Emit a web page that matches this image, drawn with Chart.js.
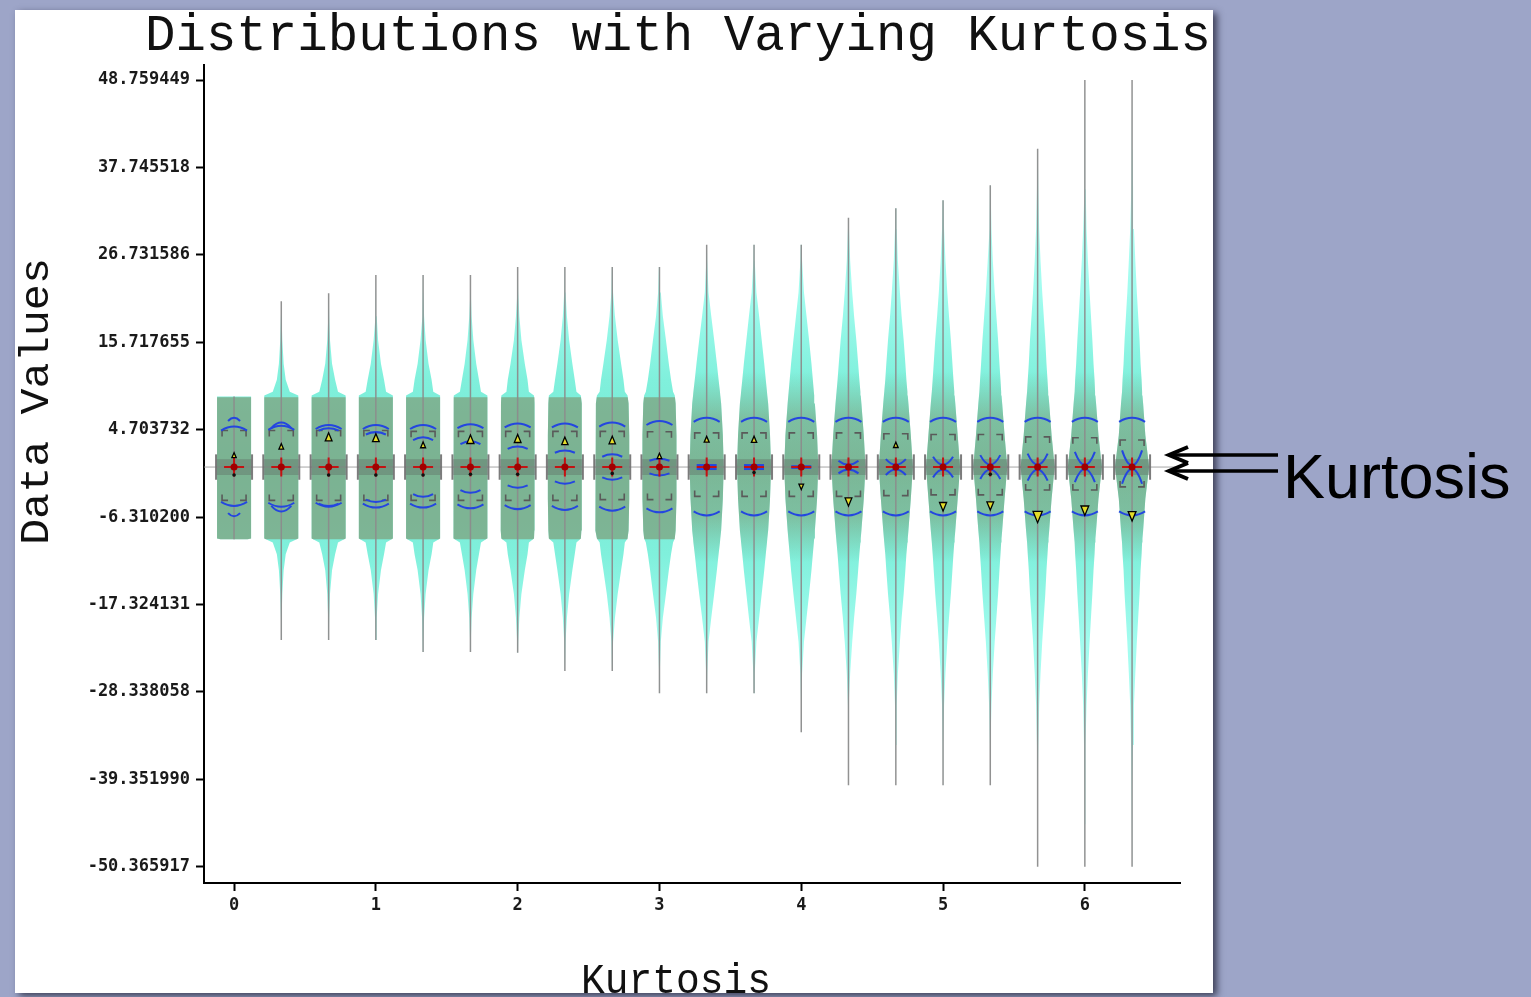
<!DOCTYPE html>
<html>
<head>
<meta charset="utf-8">
<script src="https://cdn.jsdelivr.net/npm/chart.js@4.4.0/dist/chart.umd.min.js"></script>
<style>
  html, body { margin: 0; padding: 0; background: #9da5c8; overflow: hidden; }
</style>
</head>
<body>
<canvas id="kurt" width="1531" height="997"></canvas>
<script>
// one summary plot per kurtosis step
const positions = [0, 0.333, 0.667, 1, 1.333, 1.667, 2, 2.333, 2.667, 3, 3.333, 3.667, 4, 4.333, 4.667, 5, 5.333, 5.667, 6, 6.333];
const mins = [-9.1, -21.8, -21.8, -21.8, -23.3, -23.3, -23.4, -25.7, -25.7, -28.5, -28.5, -28.5, -33.4, -40.1, -40.1, -40.1, -40.1, -50.365917, -50.365917, -50.365917];
const maxs = [8.9, 20.9, 21.9, 24.2, 24.2, 24.2, 25.2, 25.2, 25.2, 25.2, 28.0, 28.0, 28.0, 31.4, 32.6, 33.6, 35.5, 40.1, 48.759449, 48.759449];
const means = [0, 0, 0, 0, 0, 0, 0, 0, 0, 0, 0, 0, 0, 0, 0, 0, 0, 0, 0, 0];
const q1 = [-4.2, -4.2, -4.2, -4.2, -4.2, -4.2, -4.2, -4.2, -4.1, -4.1, -3.7, -3.7, -3.7, -3.7, -3.6, -3.5, -3.5, -2.9, -2.9, -2.5];
const q3 = [4.6, 4.6, 4.6, 4.6, 4.5, 4.5, 4.5, 4.5, 4.5, 4.45, 4.3, 4.3, 4.3, 4.3, 4.2, 4.1, 4.1, 3.8, 3.7, 3.4];
const sdUp = [5.1, 5.2, 5.3, 5.3, 5.3, 5.4, 5.5, 5.5, 5.6, 5.8, 6.2, 6.2, 6.2, 6.2, 6.2, 6.2, 6.2, 6.2, 6.2, 6.2];
const sdDown = [4.9, 5.0, 5.0, 5.1, 5.1, 5.2, 5.3, 5.4, 5.5, 5.7, 6.1, 6.1, 6.1, 6.1, 6.1, 6.1, 6.1, 6.1, 6.1, 6.1];
const kurtMid = [6.2, 5.6, 4.9, 4.4, 3.75, 3.25, 2.6, 2.1, 1.6, 1.05, 0.25, 0.25, 0.1, 0.3, 0.3, 0.3, 0.3, 0.3, 0.25, 0.2];
const kurtEnd = [5.8, 4.9, 4.6, 4.1, 3.4, 2.9, 2.3, 1.8, 1.3, 0.8, 0.25, 0.25, 0.1, 0.8, 1.0, 1.3, 1.5, 1.7, 1.9, 2.1];
const skewPos = [1.5, 2.6, 3.8, 3.7, 2.8, 3.5, 3.6, 3.3, 3.4, 1.4, 3.5, 3.5, -2.5, -4.4, 2.8, -5.0, -4.9, -6.3, -5.5, -6.2];
const skewMag = [0.1, 0.15, 0.45, 0.45, 0.2, 0.5, 0.45, 0.4, 0.4, 0.15, 0.2, 0.25, 0.15, 0.45, 0.15, 0.5, 0.45, 0.8, 0.6, 0.6];
const dotPos = [-1.0, null, -1.0, -1.0, -1.0, -0.9, -0.9, null, -0.8, null, null, -0.7, null, null, null, null, -0.9, null, null, null];
// true where the histogram has a hard box edge
const histBox = [true, true, true, true, true, true, true, true, true, true, false, false, false, false, false, false, false, false, false, false];

// relative density (1 = widest) at these distances from the mean
const levels = [0, 4, 8, 9, 9.5, 11, 13, 16, 19, 22, 26, 30, 35, 40, 45, 50];
const density = [
  [1, 1, 1, 1, 0],
  [1, 1, 1, 1, 0.5, 0.26, 0.14, 0.06, 0.02, 0],
  [1, 1, 1, 1, 0.55, 0.38, 0.2, 0.08, 0.03, 0.01, 0],
  [1, 1, 1, 1, 0.6, 0.48, 0.3, 0.13, 0.05, 0.01, 0],
  [1, 1, 1, 1, 0.6, 0.5, 0.32, 0.15, 0.06, 0.02, 0],
  [1, 1, 1, 0.98, 0.62, 0.5, 0.34, 0.17, 0.07, 0.02, 0],
  [1, 1, 0.98, 0.96, 0.66, 0.58, 0.42, 0.22, 0.1, 0.03, 0],
  [1, 1, 0.97, 0.94, 0.68, 0.58, 0.44, 0.25, 0.12, 0.04, 0],
  [1, 1, 0.96, 0.9, 0.74, 0.66, 0.52, 0.32, 0.16, 0.05, 0.01, 0],
  [1, 1, 0.95, 0.9, 0.8, 0.68, 0.55, 0.38, 0.2, 0.08, 0.02, 0],
  [1, 0.95, 0.85, 0.8, 0.78, 0.7, 0.6, 0.44, 0.27, 0.11, 0.03, 0],
  [1, 0.94, 0.83, 0.78, 0.76, 0.69, 0.6, 0.45, 0.3, 0.14, 0.04, 0],
  [1, 0.93, 0.8, 0.76, 0.74, 0.68, 0.6, 0.46, 0.31, 0.16, 0.05, 0.01, 0],
  [1, 0.9, 0.76, 0.72, 0.7, 0.64, 0.57, 0.46, 0.33, 0.22, 0.1, 0.03, 0],
  [1, 0.88, 0.74, 0.7, 0.68, 0.62, 0.56, 0.46, 0.34, 0.24, 0.12, 0.05, 0.01, 0],
  [1, 0.86, 0.72, 0.68, 0.66, 0.61, 0.55, 0.46, 0.35, 0.25, 0.14, 0.06, 0.02, 0],
  [1, 0.84, 0.7, 0.66, 0.64, 0.6, 0.54, 0.46, 0.36, 0.26, 0.15, 0.07, 0.02, 0],
  [1, 0.82, 0.68, 0.64, 0.62, 0.58, 0.52, 0.45, 0.36, 0.27, 0.17, 0.09, 0.04, 0.01, 0],
  [1, 0.8, 0.66, 0.62, 0.6, 0.57, 0.51, 0.44, 0.36, 0.28, 0.18, 0.1, 0.05, 0.02, 0.01, 0],
  [1, 0.78, 0.65, 0.61, 0.59, 0.56, 0.5, 0.44, 0.36, 0.28, 0.19, 0.11, 0.06, 0.03, 0.01, 0]
];
const histRange = [-9.1, 8.8];

const yTicks = [48.759449, 37.745518, 26.731586, 15.717655, 4.703732, -6.310200, -17.324131, -28.338058, -39.351990, -50.365917];
const xTicks = [0, 1, 2, 3, 4, 5, 6];

const HALF = 0.12; // widest half-width, x units
const MONO = '"Liberation Mono", "Courier New", "Nimbus Mono PS", "DejaVu Sans Mono", monospace';

function halfWidth(k, v) {
  const d = density[k];
  const a = Math.abs(v);
  for (let i = 0; i < levels.length - 1; i++) {
    if (a <= levels[i + 1]) {
      const t = (a - levels[i]) / (levels[i + 1] - levels[i]);
      const d0 = d[i] ?? 0, d1 = d[i + 1] ?? 0;
      return d0 + (d1 - d0) * t;
    }
  }
  return 0;
}

function outline(k, lo, hi) {
  const m = means[k];
  const vals = [lo];
  const offs = levels.slice(1).map(l => -l).reverse().concat(levels);
  offs.forEach(o => { const v = m + o; if (v > lo && v < hi) vals.push(v); });
  vals.push(hi);
  const right = vals.map(v => ({ x: positions[k] + HALF * halfWidth(k, v - m), y: v }));
  const left = vals.slice().reverse().map(v => ({ x: positions[k] - HALF * halfWidth(k, v - m), y: v }));
  return right.concat(left);
}

function vGradient(chart, stops, fallback) {
  const ys = chart.scales.y;
  if (!chart.chartArea || !ys) return fallback;
  const top = ys.getPixelForValue(50), bot = ys.getPixelForValue(-50);
  const g = chart.ctx.createLinearGradient(0, top, 0, bot);
  stops.forEach(([v, col]) => g.addColorStop((ys.getPixelForValue(v) - top) / (bot - top), col));
  return g;
}

const cyanFill = c => vGradient(c.chart, [
  [50, '#c4fff8'], [22, '#a2fcef'], [11, '#80f0dc'], [0, '#76e8d2'],
  [-11, '#80f0dc'], [-22, '#a2fcef'], [-50, '#c4fff8']
], '#80efdb');

const HIST = 'rgba(126,146,106,0.62)';
const softHist = c => vGradient(c.chart, [
  [50, 'rgba(126,146,106,0)'], [12, 'rgba(126,146,106,0)'], [6, 'rgba(126,146,106,0.5)'],
  [0, 'rgba(126,146,106,0.58)'], [-6, 'rgba(126,146,106,0.5)'], [-12, 'rgba(126,146,106,0)'],
  [-50, 'rgba(126,146,106,0)']
], HIST);

const datasets = [];
positions.forEach((p, k) => {
  datasets.push({
    data: [{ x: p, y: mins[k] }, { x: p, y: maxs[k] }],
    showLine: true, borderColor: 'rgba(140,140,140,0.95)', borderWidth: 1.5,
    pointRadius: 0, fill: false, order: 1
  });
  datasets.push({
    data: histBox[k]
      ? outline(k, Math.max(mins[k], histRange[0]), Math.min(maxs[k], histRange[1]))
      : outline(k, Math.max(mins[k], -14), Math.min(maxs[k], 14)),
    showLine: true, borderWidth: 0, borderColor: 'rgba(0,0,0,0)', pointRadius: 0,
    backgroundColor: histBox[k] ? HIST : softHist, fill: 'shape', tension: 0, order: 2
  });
  datasets.push({
    data: outline(k, mins[k], maxs[k]),
    showLine: true, borderWidth: 0, borderColor: 'rgba(0,0,0,0)', pointRadius: 0,
    backgroundColor: cyanFill, fill: 'shape', tension: 0, order: 3
  });
});

const panel = {
  id: 'panel',
  beforeDraw(chart) {
    const ctx = chart.ctx;
    ctx.save();
    ctx.fillStyle = '#9da5c8';
    ctx.fillRect(0, 0, chart.width, chart.height);
    ctx.shadowColor = 'rgba(30,30,50,0.75)';
    ctx.shadowBlur = 7;
    ctx.shadowOffsetX = 4;
    ctx.shadowOffsetY = 3;
    ctx.fillStyle = '#fff';
    ctx.fillRect(15, 10, 1198, 983);
    ctx.restore();
  }
};

function arc(ctx, cx, hw, yMid, yEnd) {
  ctx.beginPath();
  ctx.moveTo(cx - hw, yEnd);
  ctx.quadraticCurveTo(cx, 2 * yMid - yEnd, cx + hw, yEnd);
  ctx.stroke();
}

// stretch a text so it fills a given width and cap height
function fitText(ctx, text, size, width, cap) {
  ctx.font = size + 'px ' + MONO;
  const m = ctx.measureText(text);
  const h = m.actualBoundingBoxAscent || size * 0.6;
  ctx.scale(width / m.width, cap / h);
  ctx.fillText(text, 0, 0);
}

const glyphs = {
  id: 'glyphs',
  afterDatasetsDraw(chart) {
    const ctx = chart.ctx, xs = chart.scales.x, ys = chart.scales.y, ca = chart.chartArea;
    const X = v => xs.getPixelForValue(v), Y = v => ys.getPixelForValue(v);
    ctx.save();
    const grand = means.reduce((a, b) => a + b, 0) / means.length;
    ctx.strokeStyle = 'rgba(150,150,150,0.85)';
    ctx.lineWidth = 1;
    ctx.beginPath();
    ctx.moveTo(ca.left, Y(grand));
    ctx.lineTo(ca.right - 4, Y(grand));
    ctx.stroke();

    positions.forEach((p, k) => {
      const cx = X(p), m = means[k], y0 = Y(m);
      // box-plot centre band
      ctx.fillStyle = 'rgba(85,85,85,0.3)';
      ctx.fillRect(cx - 18, Y(m + 1.0), 36, Y(m - 1.0) - Y(m + 1.0));
      ctx.strokeStyle = 'rgba(110,110,110,0.9)';
      ctx.lineWidth = 2;
      [-18, 18].forEach(dx => {
        ctx.beginPath();
        ctx.moveTo(cx + dx, Y(m + 1.6));
        ctx.lineTo(cx + dx, Y(m - 1.6));
        ctx.stroke();
      });
      // quartile brackets
      ctx.strokeStyle = '#5a5a5a';
      ctx.lineWidth = 1.6;
      const bw = 12, arm = 6;
      const yt = Y(q3[k]), yb = Y(q1[k]);
      [-1, 1].forEach(s => {
        ctx.beginPath();
        ctx.moveTo(cx + s * (bw - arm), yt);
        ctx.lineTo(cx + s * bw, yt);
        ctx.lineTo(cx + s * bw, yt + arm);
        ctx.moveTo(cx + s * bw, yb - arm);
        ctx.lineTo(cx + s * bw, yb);
        ctx.lineTo(cx + s * (bw - arm), yb);
        ctx.stroke();
      });
      // standard deviation arcs
      ctx.strokeStyle = '#2446e0';
      ctx.lineWidth = 2;
      arc(ctx, cx, 13, Y(m + sdUp[k]), Y(m + sdUp[k]) + 4);
      arc(ctx, cx, 13, Y(m - sdDown[k]), Y(m - sdDown[k]) - 4);
      // kurtosis arcs
      const kw = k === 0 ? 6 : 10;
      arc(ctx, cx, kw, Y(m + kurtMid[k]), Y(m + kurtEnd[k]));
      arc(ctx, cx, kw, Y(m - kurtMid[k]), Y(m - kurtEnd[k]));
      // mean cross
      ctx.strokeStyle = '#c41212';
      ctx.lineWidth = 2;
      ctx.beginPath();
      ctx.moveTo(cx - 10, y0); ctx.lineTo(cx + 10, y0);
      ctx.moveTo(cx, Y(m + 1.2)); ctx.lineTo(cx, Y(m - 1.2));
      ctx.stroke();
      ctx.fillStyle = '#a00000';
      ctx.beginPath();
      ctx.arc(cx, y0, 3.5, 0, Math.PI * 2);
      ctx.fill();
      // skew triangle
      const sp = skewPos[k], mag = skewMag[k];
      const dir = sp > 0 ? -1 : 1;
      const ys0 = Y(m + sp), h = 4 + 9 * mag, w = 1.8 + 3.5 * mag;
      ctx.beginPath();
      ctx.moveTo(cx, ys0 + dir * h / 2);
      ctx.lineTo(cx - w, ys0 - dir * h / 2);
      ctx.lineTo(cx + w, ys0 - dir * h / 2);
      ctx.closePath();
      ctx.fillStyle = '#e4dc2a';
      ctx.fill();
      ctx.strokeStyle = '#000';
      ctx.lineWidth = 1.3;
      ctx.stroke();
      if (dotPos[k] !== null) {
        ctx.fillStyle = '#111';
        ctx.beginPath();
        ctx.arc(cx, Y(m + dotPos[k]), 1.8, 0, Math.PI * 2);
        ctx.fill();
      }
    });
    ctx.restore();
  },
  afterDraw(chart) {
    const ctx = chart.ctx;
    ctx.save();
    ctx.beginPath();
    ctx.rect(15, 10, 1198, 983);
    ctx.clip();
    ctx.fillStyle = '#111';
    ctx.textBaseline = 'alphabetic';
    ctx.textAlign = 'left';
    // title
    ctx.save();
    ctx.translate(145, 50);
    fitText(ctx, 'Distributions with Varying Kurtosis', 50, 1066, 37);
    ctx.restore();
    // y title
    ctx.save();
    ctx.translate(48, 545);
    ctx.rotate(-Math.PI / 2);
    fitText(ctx, 'Data Values', 44, 287, 30);
    ctx.restore();
    // x title
    ctx.save();
    ctx.translate(581, 993);
    fitText(ctx, 'Kurtosis', 40, 190, 32);
    ctx.restore();
    ctx.restore();

    // slide annotation
    ctx.save();
    ctx.strokeStyle = '#000';
    ctx.lineCap = 'butt';
    [455, 471].forEach(ya => {
      ctx.lineWidth = 3.5;
      ctx.beginPath();
      ctx.moveTo(1172, ya); ctx.lineTo(1278, ya);
      ctx.stroke();
      ctx.lineWidth = 4;
      ctx.beginPath();
      ctx.moveTo(1188, ya - 8); ctx.lineTo(1169, ya); ctx.lineTo(1188, ya + 8);
      ctx.stroke();
    });
    ctx.fillStyle = '#000';
    ctx.font = '63px "Liberation Sans", Arial, sans-serif';
    ctx.textAlign = 'left';
    ctx.fillText('Kurtosis', 1283, 498);
    ctx.restore();
  }
};

const tickFont = { family: '"DejaVu Sans Mono"', size: 17, weight: 'bold' };

function build() {
  new Chart(document.getElementById('kurt'), {
    type: 'scatter',
    data: { datasets },
    options: {
      responsive: false,
      animation: false,
      layout: { padding: { left: 84, top: 65, right: 351, bottom: 74 } },
      plugins: { legend: { display: false }, tooltip: { enabled: false } },
      scales: {
        x: {
          type: 'linear', min: -0.212, max: 6.671,
          afterBuildTicks: s => { s.ticks = xTicks.map(v => ({ value: v })); },
          afterFit: s => { s.height = 40; },
          ticks: { font: tickFont, color: '#1a1a1a', padding: 4, maxRotation: 0, autoSkip: false },
          grid: { drawOnChartArea: false, tickLength: 8, tickWidth: 2, tickColor: '#000' },
          border: { color: '#000', width: 2 }
        },
        y: {
          type: 'linear', min: -52.4, max: 50.65,
          afterBuildTicks: s => { s.ticks = yTicks.map(v => ({ value: v })); },
          afterFit: s => { s.width = 120; },
          ticks: { font: tickFont, color: '#1a1a1a', padding: 6, autoSkip: false, callback: v => v.toFixed(6) },
          grid: { drawOnChartArea: false, tickLength: 8, tickWidth: 2, tickColor: '#000' },
          border: { color: '#000', width: 2 }
        }
      }
    },
    plugins: [panel, glyphs]
  });
}

Promise.all([
  document.fonts.load('50px "Liberation Mono"'),
  document.fonts.load('63px "Liberation Sans"'),
  document.fonts.load('bold 17px "DejaVu Sans Mono"')
]).then(build, build);
</script>
</body>
</html>
